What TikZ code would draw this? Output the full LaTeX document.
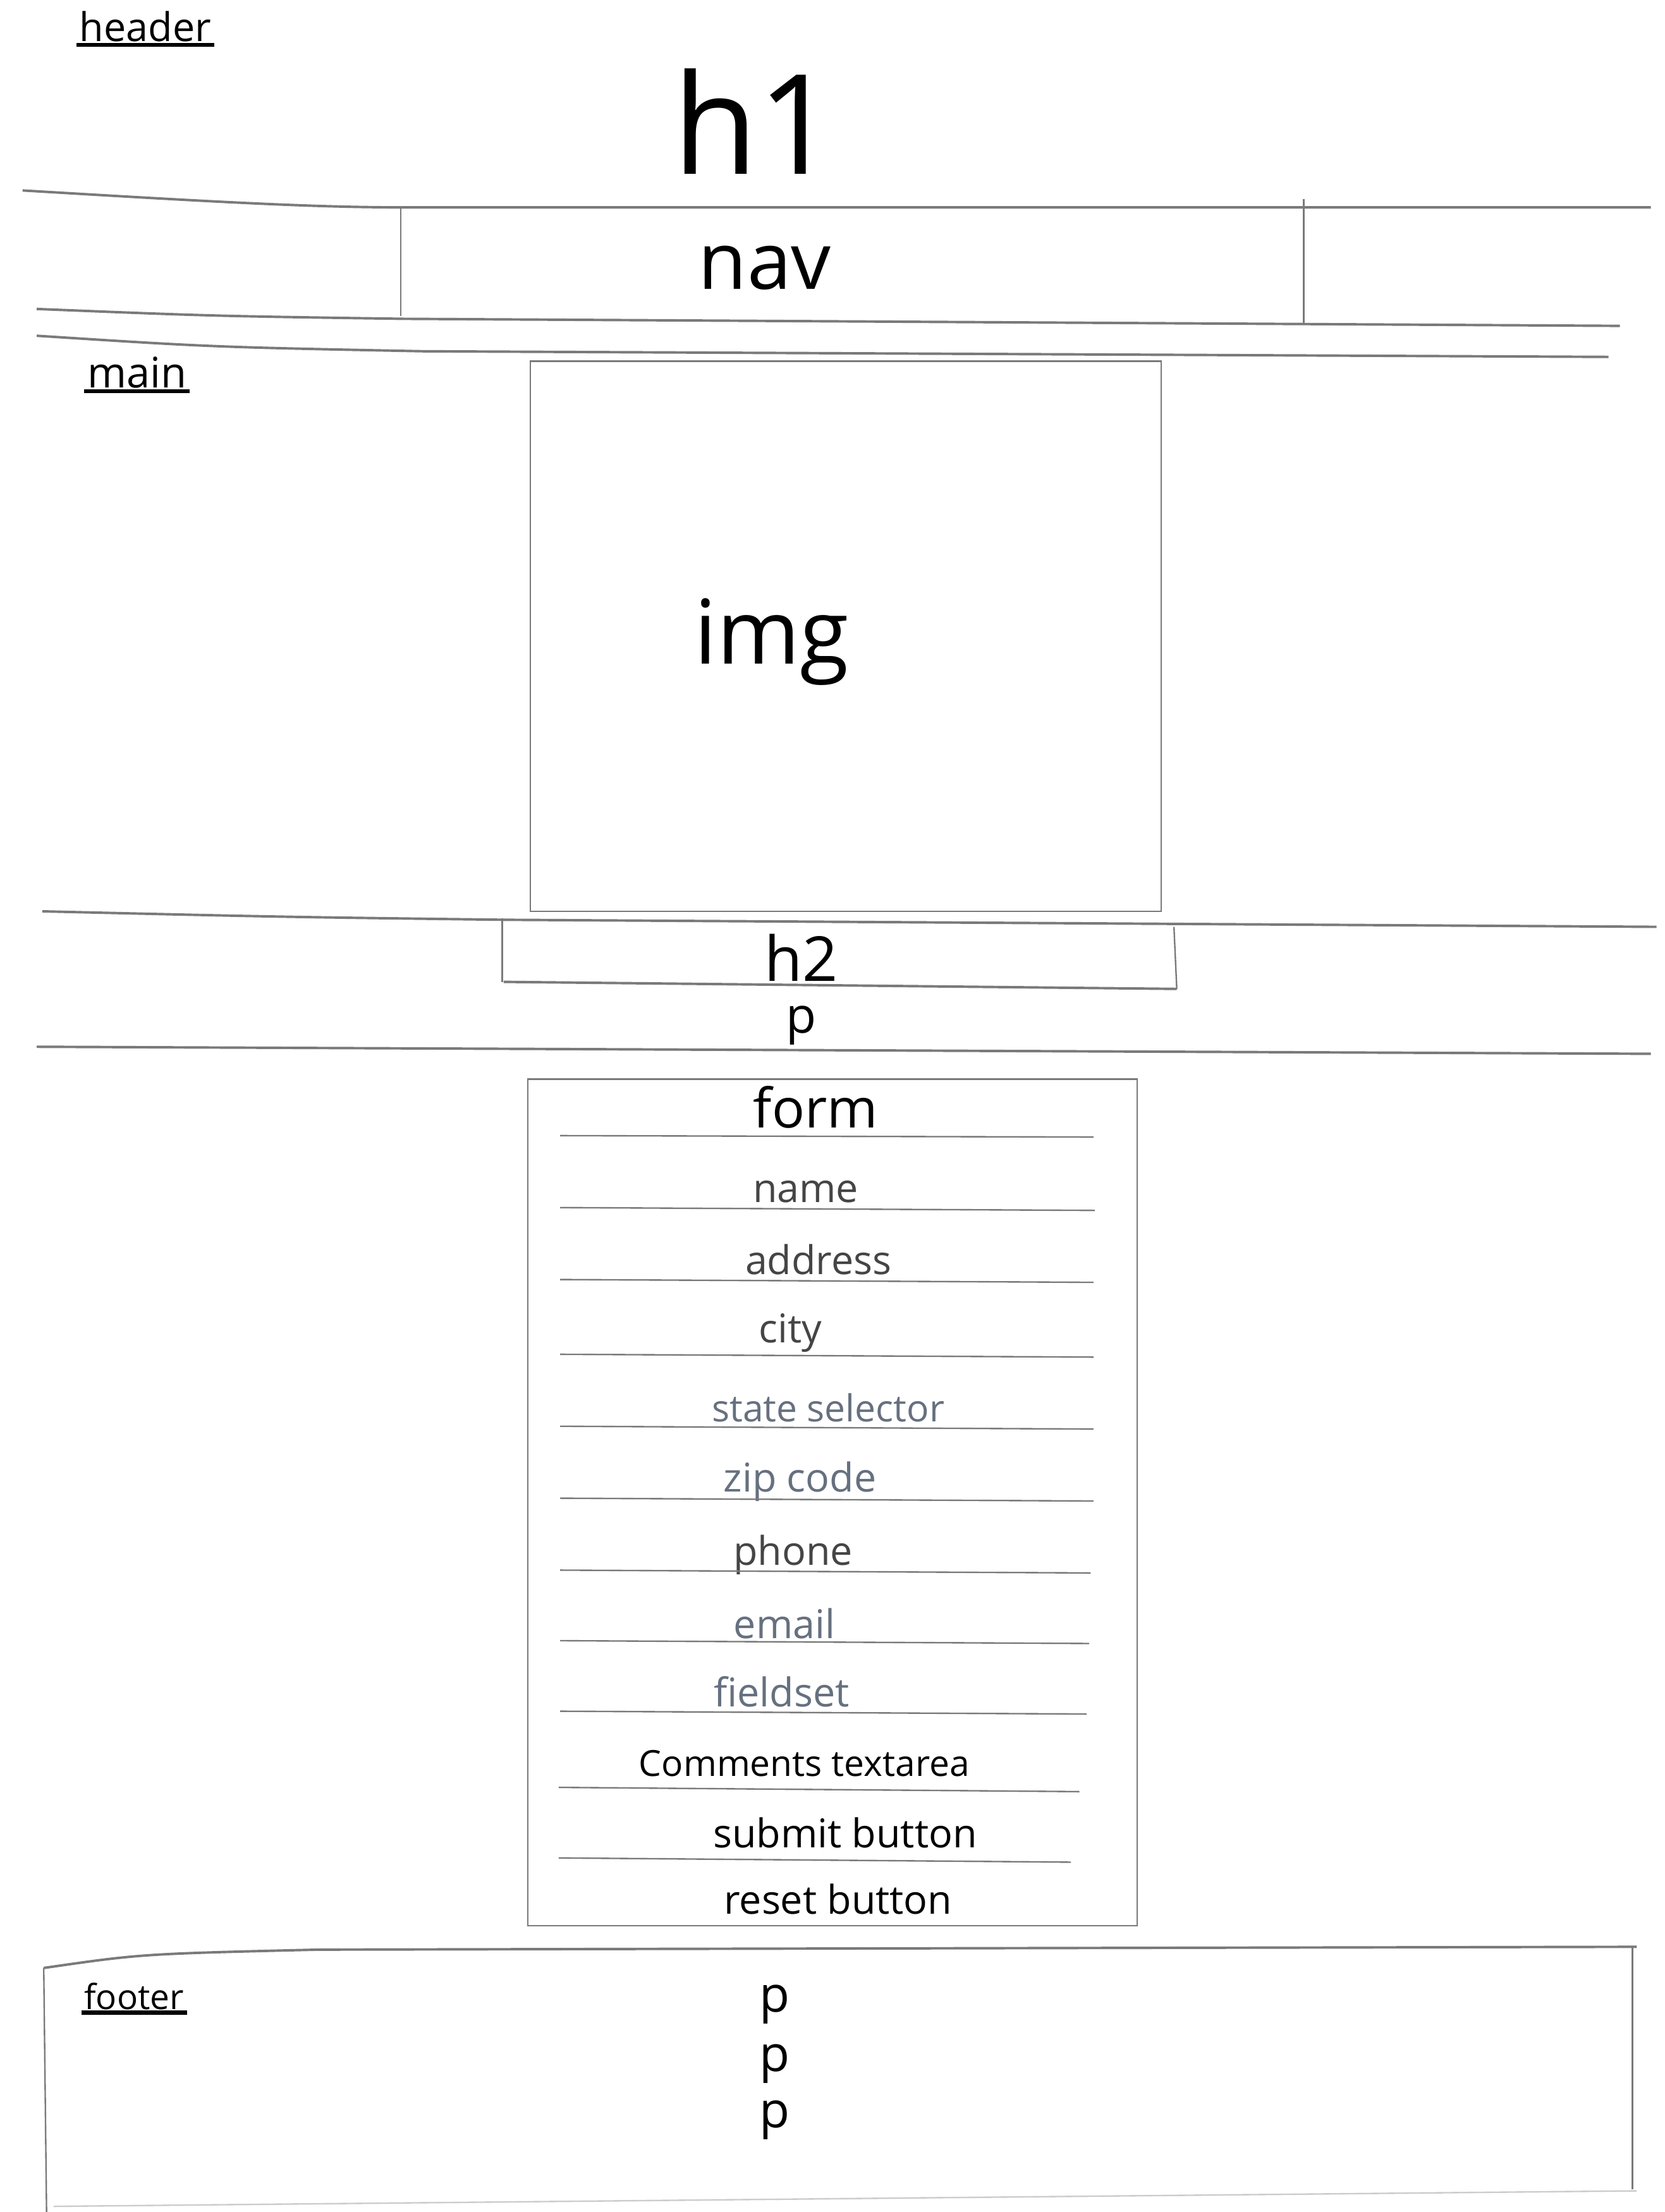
\documentclass[tikz,border=0pt]{standalone}
\usepackage{fontspec}
\setmainfont{Open Sans}
\definecolor{graphite}{HTML}{454545}
\definecolor{slate}{HTML}{66707F}
\definecolor{pencilgray}{HTML}{7A7A7A}

\begin{document}
\begin{tikzpicture}[x=0.02cm,y=-0.02cm,
    pencil/.style={pencilgray, line width=1pt},
    faint/.style={pencilgray, line width=0.6pt},
    hand/.style={black, inner sep=1pt, font=\fontsize{#1}{#1}\selectfont},
    field/.style={hand=16}]

      \useasboundingbox[fill=white] (0,0) rectangle (1180,1568);

      \node[hand=16] (hdr) at (103,19) {header};
      \draw[black, line width=1.6pt] (hdr.south west) -- (hdr.south east);
      \node[hand=56] (hone) at (535,86) {h1};

      \draw[pencil] (16,135) .. controls (150,143) and (220,147) .. (286,147) -- (1170,147);
      \draw[faint] (284,147) -- (284,224);
      \draw[faint] (924,141) -- (924,230);
      \node[hand=32] (nav) at (542,190) {nav};
      \draw[pencil] (26,219) .. controls (150,224) .. (286,226) -- (1148,231);

      \draw[pencil] (26,238) .. controls (150,246) .. (300,249) -- (1140,253);
      \node[hand=17] (mn) at (97,264) {main};
      \draw[black, line width=1.6pt] (mn.south west) -- (mn.south east);

      \draw[faint] (376,256) rectangle (823,646);
      \node[hand=36] (img) at (547,455) {img};

      \draw[pencil] (30,646) .. controls (200,650) .. (358,652) -- (1174,657);
      \draw[faint] (356,651) -- (356,696);
      \draw[faint] (832,657) -- (834,701);
      \draw[pencil] (357,696) -- (834,701);
      \node[hand=25] (htwo) at (568,679) {h2};
      \node[hand=20] (para) at (568,727) {p};
      \draw[pencil] (26,742) -- (1170,747);

      \draw[faint] (374,765) rectangle (806,1365);
      \node[hand=22] (frm) at (578,785) {form};
      \draw[faint] (397,805) -- (775,806);
      \node[field, graphite] (fname) at (571,845) {name};
      \draw[faint] (397,856) -- (776,858);
      \node[field, graphite] (faddr) at (580,893) {address};
      \draw[faint] (397,907) -- (775,909);
      \node[field, graphite] (fcity) at (560,945) {city};
      \draw[faint] (397,960) -- (775,962);
      \node[hand=15, slate] (fstate) at (587,998) {state selector};
      \draw[faint] (397,1011) -- (775,1013);
      \node[field, slate] (fzip) at (567,1050) {zip code};
      \draw[faint] (397,1062) -- (775,1064);
      \node[field, graphite] (fphone) at (562,1102) {phone};
      \draw[faint] (397,1113) -- (773,1115);
      \node[field, slate] (femail) at (556,1151) {email};
      \draw[faint] (397,1163) -- (772,1165);
      \node[field, slate] (fset) at (554,1199) {fieldset};
      \draw[faint] (397,1213) -- (770,1215);
      \node[hand=14.5] (fcomm) at (570,1250) {Comments textarea};
      \draw[faint] (396,1267) -- (765,1270);
      \node[field] (fsub) at (599,1299) {submit button};
      \draw[faint] (396,1317) -- (759,1320);
      \node[field] (freset) at (594,1346) {reset button};

      \draw[pencil] (31,1395) .. controls (100,1385) .. (226,1382) -- (1160,1380);
      \draw[faint] (31,1395) -- (33,1568);
      \draw[faint] (1157,1380) -- (1157,1552);
      \draw[gray!40, line width=0.6pt] (38,1564) -- (1160,1553);
      \node[hand=14] (ftr) at (95,1415) {footer};
      \draw[black, line width=1.6pt] (ftr.south west) -- (ftr.south east);
      \node[hand=20] (fpone) at (549,1421) {p};
      \node[hand=20] (fptwo) at (549,1463) {p};
      \node[hand=20] (fpthree) at (549,1503) {p};

    \end{tikzpicture}
\end{document}
